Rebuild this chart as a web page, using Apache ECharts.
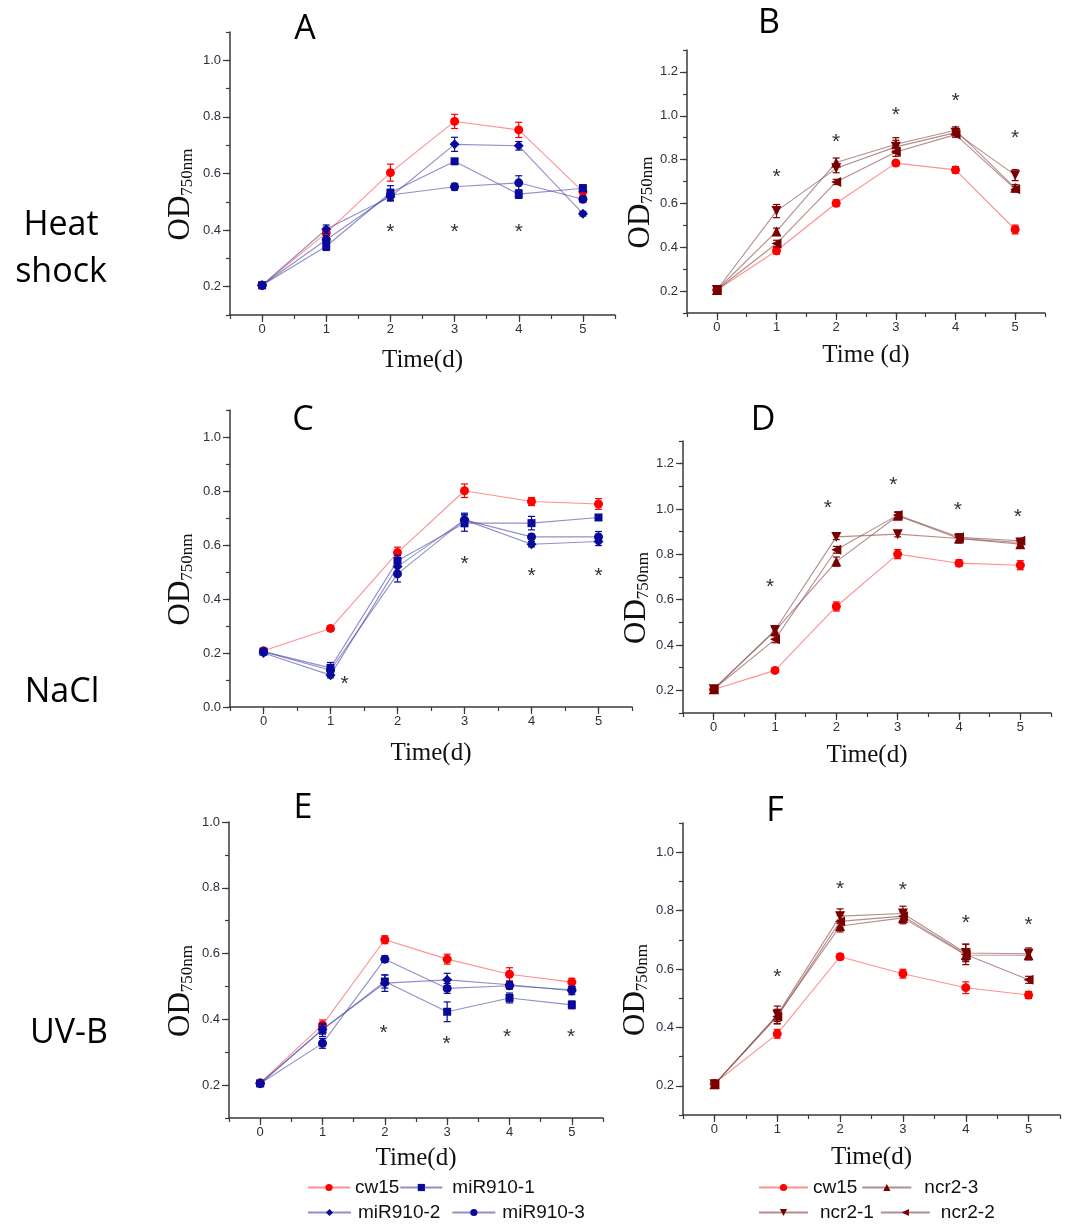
<!DOCTYPE html>
<html><head><meta charset="utf-8">
<script src="https://cdn.jsdelivr.net/npm/echarts@6/dist/echarts.min.js"></script>
<style>html,body{margin:0;padding:0;background:#fff}#c{width:1068px;height:1226px}</style>
</head><body><div id="c"></div>
<script>
// ---------- DATA ----------
const days = [0, 1, 2, 3, 4, 5];
const xTickLabels = ['0', '1', '2', '3', '4', '5'];
const miRNames = ['cw15', 'miR910-1', 'miR910-2', 'miR910-3'];
const ncrNames = ['cw15', 'ncr2-3', 'ncr2-1', 'ncr2-2'];

// Panel A (Heat shock, miR910)
const A_cw15 = [0.205, 0.390, 0.603, 0.784, 0.754, 0.536];
const A_cw15_err = [0.008, 0.020, 0.030, 0.025, 0.027, 0.015];
const A_m1 = [0.205, 0.343, 0.532, 0.643, 0.527, 0.548];
const A_m1_err = [0.006, 0.015, 0.025, 0.010, 0.015, 0.012];
const A_m2 = [0.205, 0.403, 0.518, 0.703, 0.698, 0.458];
const A_m2_err = [0.006, 0.015, 0.015, 0.025, 0.015, 0.008];
const A_m3 = [0.205, 0.366, 0.524, 0.553, 0.567, 0.509];
const A_m3_err = [0.006, 0.015, 0.020, 0.012, 0.025, 0.010];
const A_stars = [[2, 0.407], [3, 0.407], [4, 0.407]];

// Panel B (Heat shock, ncr2)
const B_cw15 = [0.205, 0.384, 0.601, 0.784, 0.753, 0.481];
const B_cw15_err = [0.008, 0.015, 0.015, 0.012, 0.015, 0.020];
const B_n3 = [0.205, 0.472, 0.787, 0.870, 0.934, 0.671];
const B_n3_err = [0.008, 0.015, 0.020, 0.030, 0.015, 0.015];
const B_n1 = [0.205, 0.565, 0.760, 0.858, 0.923, 0.729];
const B_n1_err = [0.008, 0.030, 0.020, 0.030, 0.015, 0.025];
const B_n2 = [0.205, 0.417, 0.698, 0.835, 0.914, 0.665];
const B_n2_err = [0.008, 0.015, 0.012, 0.020, 0.012, 0.012];
const B_stars = [[1, 0.736], [2, 0.896], [3, 1.022], [4, 1.083], [5, 0.916]];

// Panel C (NaCl, miR910)
const C_cw15 = [0.208, 0.291, 0.572, 0.801, 0.761, 0.752];
const C_cw15_err = [0.008, 0.010, 0.020, 0.025, 0.015, 0.020];
const C_m1 = [0.205, 0.145, 0.542, 0.681, 0.681, 0.702];
const C_m1_err = [0.006, 0.020, 0.020, 0.030, 0.025, 0.010];
const C_m2 = [0.200, 0.118, 0.520, 0.693, 0.603, 0.613];
const C_m2_err = [0.006, 0.010, 0.020, 0.025, 0.010, 0.015];
const C_m3 = [0.205, 0.136, 0.493, 0.693, 0.630, 0.630];
const C_m3_err = [0.006, 0.015, 0.030, 0.020, 0.010, 0.020];
const C_stars = [[1.21, 0.101], [3, 0.542], [4, 0.501], [5, 0.498]];

// Panel D (NaCl, ncr2)
const D_cw15 = [0.204, 0.288, 0.570, 0.801, 0.761, 0.752];
const D_cw15_err = [0.008, 0.010, 0.020, 0.020, 0.015, 0.020];
const D_n3 = [0.205, 0.462, 0.768, 0.970, 0.870, 0.845];
const D_n3_err = [0.008, 0.015, 0.020, 0.015, 0.020, 0.010];
const D_n1 = [0.205, 0.465, 0.877, 0.889, 0.870, 0.852];
const D_n1_err = [0.008, 0.020, 0.012, 0.012, 0.015, 0.010];
const D_n2 = [0.205, 0.425, 0.820, 0.973, 0.875, 0.860];
const D_n2_err = [0.008, 0.015, 0.015, 0.015, 0.015, 0.010];
const D_stars = [[0.92, 0.673], [1.86, 1.022], [2.93, 1.122], [3.98, 1.014], [4.96, 0.980]];

// Panel E (UV-B, miR910)
const E_cw15 = [0.207, 0.383, 0.642, 0.583, 0.537, 0.513];
const E_cw15_err = [0.006, 0.015, 0.012, 0.015, 0.020, 0.012];
const E_m1 = [0.205, 0.368, 0.515, 0.423, 0.465, 0.444];
const E_m1_err = [0.006, 0.020, 0.020, 0.030, 0.015, 0.012];
const E_m2 = [0.205, 0.370, 0.510, 0.520, 0.505, 0.487];
const E_m2_err = [0.006, 0.015, 0.025, 0.020, 0.010, 0.012];
const E_m3 = [0.205, 0.327, 0.583, 0.494, 0.502, 0.490];
const E_m3_err = [0.006, 0.015, 0.010, 0.015, 0.010, 0.010];
const E_stars = [[1.98, 0.371], [2.99, 0.337], [3.96, 0.359], [4.99, 0.359]];

// Panel F (UV-B, ncr2)
const F_cw15 = [0.208, 0.378, 0.642, 0.584, 0.536, 0.511];
const F_cw15_err = [0.008, 0.015, 0.010, 0.015, 0.020, 0.012];
const F_n3 = [0.205, 0.440, 0.747, 0.775, 0.648, 0.647];
const F_n3_err = [0.008, 0.020, 0.020, 0.020, 0.020, 0.015];
const F_n1 = [0.205, 0.443, 0.781, 0.790, 0.655, 0.652];
const F_n1_err = [0.008, 0.030, 0.025, 0.025, 0.030, 0.020];
const F_n2 = [0.205, 0.437, 0.763, 0.781, 0.650, 0.563];
const F_n2_err = [0.008, 0.025, 0.020, 0.020, 0.035, 0.012];
const F_stars = [[1, 0.586], [2, 0.888], [3, 0.884], [4, 0.770], [5, 0.762]];

// ---------- LAYOUT / STYLE ----------
const panels = [
  {label:'A', names: miRNames, vals:[A_cw15, A_m1, A_m2, A_m3], errs:[A_cw15_err, A_m1_err, A_m2_err, A_m3_err], stars:A_stars,
   grid:{left:230, top:32, width:385, height:283}, ymin:0.1, ymax:1.1, xname:'Time(d)', xgap:33, ygap:34, title:[305, 29]},
  {label:'B', names: ncrNames, vals:[B_cw15, B_n3, B_n1, B_n2], errs:[B_cw15_err, B_n3_err, B_n1_err, B_n2_err], stars:B_stars,
   grid:{left:687, top:50, width:358, height:263}, ymin:0.1, ymax:1.3, xname:'Time (d)', xgap:30, ygap:31, title:[769, 23]},
  {label:'C', names: miRNames, vals:[C_cw15, C_m1, C_m2, C_m3], errs:[C_cw15_err, C_m1_err, C_m2_err, C_m3_err], stars:C_stars,
   grid:{left:230, top:410, width:402, height:297}, ymin:0.0, ymax:1.1, xname:'Time(d)', xgap:34, ygap:34, title:[303, 420]},
  {label:'D', names: ncrNames, vals:[D_cw15, D_n3, D_n1, D_n2], errs:[D_cw15_err, D_n3_err, D_n1_err, D_n2_err], stars:D_stars,
   grid:{left:683, top:441, width:368, height:272}, ymin:0.1, ymax:1.3, xname:'Time(d)', xgap:30, ygap:31, title:[763, 420]},
  {label:'E', names: miRNames, vals:[E_cw15, E_m1, E_m2, E_m3], errs:[E_cw15_err, E_m1_err, E_m2_err, E_m3_err], stars:E_stars,
   grid:{left:229, top:822, width:374, height:296}, ymin:0.1, ymax:1.0, xname:'Time(d)', xgap:28, ygap:33, title:[303, 808]},
  {label:'F', names: ncrNames, vals:[F_cw15, F_n3, F_n1, F_n2], errs:[F_cw15_err, F_n3_err, F_n1_err, F_n2_err], stars:F_stars,
   grid:{left:683, top:823, width:377, height:292}, ymin:0.1, ymax:1.1, xname:'Time(d)', xgap:30, ygap:32, title:[775, 811]}
];

const styleByName = {
  'cw15':     {symbol:'circle',   rot:0,   size:9,  mark:'#ff0000', line:'rgba(255,70,70,0.6)'},
  'miR910-1': {symbol:'rect',     rot:0,   size:8,  mark:'#0a0a9a', line:'rgba(70,70,165,0.6)'},
  'miR910-2': {symbol:'diamond',  rot:0,   size:10, mark:'#0a0a9a', line:'rgba(70,70,165,0.6)'},
  'miR910-3': {symbol:'circle',   rot:0,   size:9,  mark:'#0a0a9a', line:'rgba(70,70,165,0.6)'},
  'ncr2-3':   {symbol:'triangle', rot:0,   size:10, mark:'#7a0000', line:'rgba(140,80,80,0.65)'},
  'ncr2-1':   {symbol:'triangle', rot:180, size:10, mark:'#7a0000', line:'rgba(140,80,80,0.65)'},
  'ncr2-2':   {symbol:'triangle', rot:90,  size:10, mark:'#7a0000', line:'rgba(140,80,80,0.65)'}
};

const axisColor = '#3a3a3a';
const labelColor = '#2e2e40';

const grids = [], xAxes = [], yAxes = [], series = [], graphics = [];

panels.forEach((p, i) => {
  grids.push(Object.assign({containLabel:false}, p.grid));
  const xi = 2 * i, yi = 2 * i;
  xAxes.push({
    type:'value', gridIndex:i, min:-0.5, max:5.5, interval:0.5, position:'bottom',
    axisLine:{show:true, onZero:false, lineStyle:{color:axisColor, width:1.5}},
    axisTick:{show:true, length:4, lineStyle:{color:axisColor, width:1.2}},
    splitLine:{show:false},
    axisLabel:{show:true, margin:8, fontSize:13, fontFamily:'Liberation Sans', color:labelColor,
      showMinLabel:true, showMaxLabel:true,
      formatter: v => { const k = Math.round(v); return (Math.abs(v - k) < 1e-6 && k >= 0 && k <= 5) ? xTickLabels[k] : ''; }},
    name:p.xname, nameLocation:'middle', nameGap:p.xgap,
    nameTextStyle:{fontFamily:'Liberation Serif', fontSize:25, color:'#111'}
  });
  xAxes.push({
    type:'value', gridIndex:i, min:-0.5, max:5.5, position:'bottom', offset:0,
    axisLine:{show:false, onZero:false}, splitLine:{show:false}, axisLabel:{show:false},
    axisTick:{show:true, length:7, customValues:days, lineStyle:{color:axisColor, width:1.2}}
  });
  const yMajor = [];
  for (let k = Math.round(p.ymin * 10); k <= Math.round(p.ymax * 10); k++) if (k % 2 === 0) yMajor.push(k / 10);
  yAxes.push({
    type:'value', gridIndex:i, min:p.ymin, max:p.ymax, interval:0.1, position:'left',
    axisLine:{show:true, onZero:false, lineStyle:{color:axisColor, width:1.5}},
    axisTick:{show:true, length:4, lineStyle:{color:axisColor, width:1.2}},
    splitLine:{show:false},
    axisLabel:{show:true, margin:9, fontSize:13, fontFamily:'Liberation Sans', color:labelColor,
      showMinLabel:true, showMaxLabel:true,
      formatter: v => { const k = Math.round(v * 10); return k % 2 === 0 ? (k / 10).toFixed(1) : ''; }},
    name:'{od|OD}{sub|750nm}', nameLocation:'middle', nameGap:p.ygap,
    nameTextStyle:{rich:{
      od:{fontFamily:'Liberation Serif', fontSize:31, color:'#111', verticalAlign:'top', lineHeight:31},
      sub:{fontFamily:'Liberation Serif', fontSize:17, color:'#111', verticalAlign:'bottom', lineHeight:17, padding:[22, 42, 0, 0]}
    }}
  });
  yAxes.push({
    type:'value', gridIndex:i, min:p.ymin, max:p.ymax, position:'left', offset:0,
    axisLine:{show:false, onZero:false}, splitLine:{show:false}, axisLabel:{show:false},
    axisTick:{show:true, length:7, customValues:yMajor, lineStyle:{color:axisColor, width:1.2}}
  });

  p.names.forEach((nm, j) => {
    const st = styleByName[nm];
    const vals = p.vals[j], errs = p.errs[j];
    series.push({
      type:'line', name:nm, xAxisIndex:xi, yAxisIndex:yi, z:2 + j,
      data: days.map((d, k) => [d, vals[k]]),
      symbol:st.symbol, symbolSize:st.size, symbolRotate:st.rot, showAllSymbol:true,
      lineStyle:{color:st.line, width:1.1},
      itemStyle:{color:st.mark},
      emphasis:{disabled:true}
    });
    series.push({
      type:'custom', name:'err-' + p.label + j, xAxisIndex:xi, yAxisIndex:yi, z:2 + j,
      data: days.map((d, k) => [d, vals[k] - errs[k], vals[k] + errs[k]]),
      renderItem:(params, api) => {
        const x = api.value(0);
        const a = api.coord([x, api.value(2)]), b = api.coord([x, api.value(1)]);
        const w = 3.5, s = {stroke:st.mark, lineWidth:1.2};
        return {type:'group', children:[
          {type:'line', shape:{x1:a[0], y1:a[1], x2:b[0], y2:b[1]}, style:s},
          {type:'line', shape:{x1:a[0]-w, y1:a[1], x2:a[0]+w, y2:a[1]}, style:s},
          {type:'line', shape:{x1:b[0]-w, y1:b[1], x2:b[0]+w, y2:b[1]}, style:s}
        ]};
      },
      silent:true
    });
  });
  series.push({
    type:'custom', name:'stars-' + p.label, xAxisIndex:xi, yAxisIndex:yi, z:10,
    data:p.stars,
    renderItem:(params, api) => {
      const c = api.coord([api.value(0), api.value(1)]);
      return {type:'text', x:c[0], y:c[1] + 4, style:{text:'*', fill:'#333', font:'21px "Liberation Sans"',
        align:'center', verticalAlign:'middle', textAlign:'center', textVerticalAlign:'middle'}};
    },
    silent:true
  });
  graphics.push({type:'text', x:p.title[0], y:p.title[1], style:{text:p.label, font:'34px "Open Sans"', fill:'#000',
    align:'center', verticalAlign:'middle', textAlign:'center', textVerticalAlign:'middle'}});
});

const rowLabels = [
  {t:'Heat', x:61, y:225}, {t:'shock', x:61, y:272}, {t:'NaCl', x:62, y:692}, {t:'UV-B', x:69, y:1033}
];
rowLabels.forEach(r => graphics.push({type:'text', x:r.x, y:r.y, style:{text:r.t, font:'34px "Open Sans"', fill:'#000',
  align:'center', verticalAlign:'middle', textAlign:'center', textVerticalAlign:'middle'}}));

const legendBase = {orient:'horizontal', itemHeight:9, padding:0, selectedMode:false,
  textStyle:{fontFamily:'Liberation Sans', fontSize:19, color:'#111'}};
const li = (name, pad) => ({name:name, textStyle:{padding:[0, 0, 0, pad]}});
const legends = [
  Object.assign({}, legendBase, {data:[li('cw15', 0), li('miR910-1', 5)], left:307, top:1178, itemWidth:42, itemGap:0}),
  Object.assign({}, legendBase, {data:[li('miR910-2', 2), li('miR910-3', 2)], left:307, top:1203, itemWidth:43, itemGap:11}),
  Object.assign({}, legendBase, {data:[li('cw15', 0), li('ncr2-3', 8)], left:758, top:1178, itemWidth:49, itemGap:4}),
  Object.assign({}, legendBase, {data:[li('ncr2-1', 7), li('ncr2-2', 6)], left:758, top:1203, itemWidth:49, itemGap:6})
];

const chart = echarts.init(document.getElementById('c'), null, {renderer:'canvas'});
chart.setOption({
  animation:false,
  backgroundColor:'#ffffff',
  grid:grids, xAxis:xAxes, yAxis:yAxes, series:series, legend:legends, graphic:graphics
});
</script></body></html>
